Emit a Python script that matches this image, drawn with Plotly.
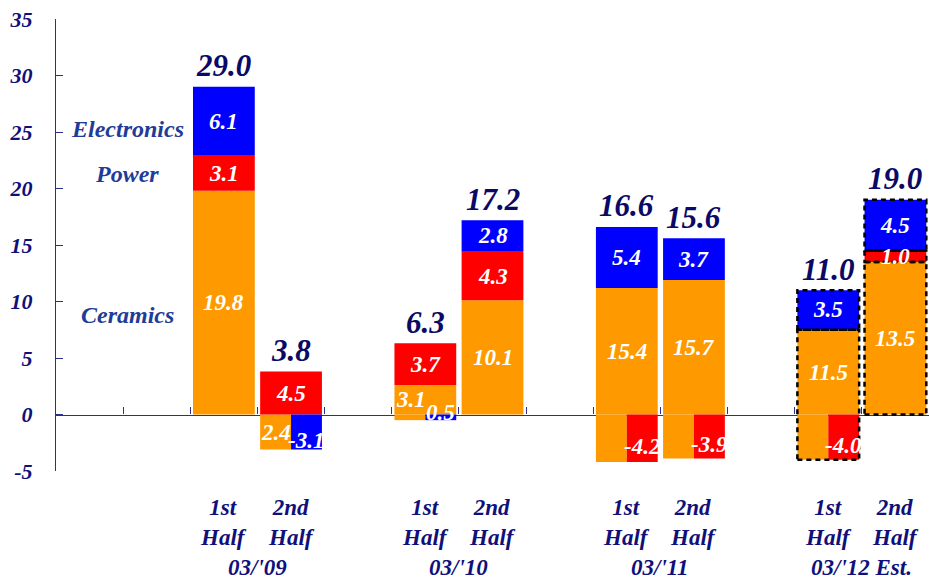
import plotly.graph_objects as go

# Operating income by segment, half-year (billion yen)
periods = ["03/'09", "03/'10", "03/'11", "03/'12 Est."]
halves = ["1st", "2nd"]
ceramics = [19.8, 2.4, 3.1, 10.1, 15.4, 15.7, 11.5, 13.5]
power = [3.1, 4.5, 3.7, 4.3, -4.2, -3.9, -4.0, 1.0]
electronics = [6.1, -3.1, -0.5, 2.8, 5.4, 3.7, 3.5, 4.5]
totals = [29.0, 3.8, 6.3, 17.2, 16.6, 15.6, 11.0, 19.0]
estimate = [False, False, False, False, False, False, True, True]
y_ticks = [-5, 0, 5, 10, 15, 20, 25, 30, 35]

ORANGE, RED, BLUE = "#FF9900", "#FF0000", "#0000FF"
SERIES = [("Ceramics", ceramics, ORANGE), ("Power", power, RED), ("Electronics", electronics, BLUE)]
NAVY = "#10107A"
TOTAL_NAVY = "#0A0A66"
SERIES_BLUE = "#1F3C98"
AXIS = "#2E2E8F"
FONT = "Liberation Serif, Times New Roman, serif"

BAR_W = 0.92
HALF_W = BAR_W / 2


def bi(size, color):
    return dict(family=FONT, size=size, color=color, weight="bold", style="italic")


# label tweaks (pixels) and text overrides for a few crowded segments
NUDGE = {(2, "Ceramics"): (-14, 0), (2, "Electronics"): (0, 13)}
TEXT_OVERRIDE = {(2, "Electronics"): "0.5"}

rects = {name: dict(x=[], base=[], y=[], offset=[], width=[]) for name, _, _ in SERIES}
seg_labels = []
outlines = []


def add_rect(name, xc, lo, hi, part):
    r = rects[name]
    r["x"].append(xc)
    r["base"].append(lo)
    r["y"].append(hi - lo)
    if part == "full":
        r["offset"].append(-HALF_W)
        r["width"].append(BAR_W)
    elif part == "left":
        r["offset"].append(-HALF_W)
        r["width"].append(HALF_W)
    else:
        r["offset"].append(0)
        r["width"].append(HALF_W)


for i in range(len(totals)):
    xc = 3 * (i // 2) + 2 + (i % 2)
    vals = [(name, s[i]) for name, s, _ in SERIES]
    neg = -sum(v for _, v in vals if v < 0)

    # positive part of the bar reaches the total; the offsetting loss
    # is taken out of the bottom of the stack and shown below zero
    drawn = {}
    remaining = totals[i]
    for name, v in reversed(vals):
        if v <= 0:
            continue
        h = min(v, remaining)
        drawn[name] = (remaining - h, remaining)
        remaining -= h
    for name, (lo, hi) in drawn.items():
        if hi > lo:
            add_rect(name, xc, lo, hi, "full")
    if neg > 0:
        add_rect("Ceramics", xc, -neg, 0, "left")
        for name, v in vals:
            if v < 0:
                add_rect(name, xc, v, 0, "right")

    for name, v in vals:
        text = TEXT_OVERRIDE.get((i, name), f"{v:.1f}")
        dx, dy = NUDGE.get((i, name), (0, 0))
        if v > 0:
            lo, hi = drawn[name]
            if hi > lo:
                lx, ly = xc, (lo + hi) / 2
            else:
                lx, ly = xc - HALF_W / 2, -neg / 2
        else:
            lx, ly = xc + HALF_W / 2, v / 2
            dy -= 8
        seg_labels.append((lx, ly, text, dx, dy))

    if estimate[i]:
        segs = sorted((lo, hi) for lo, hi in drawn.values() if hi > lo)
        for lo, hi in segs:
            outlines.append((xc, -neg if lo == 0 else lo, hi))

fig = go.Figure()
for name, _, color in SERIES:
    r = rects[name]
    fig.add_trace(go.Bar(
        x=r["x"], y=r["y"], base=r["base"], offset=r["offset"], width=r["width"],
        marker=dict(color=color, line=dict(width=0)), name=name,
        hoverinfo="skip", showlegend=False,
    ))

shapes = []
for xc, lo, hi in outlines:
    shapes.append(dict(
        type="rect", xref="x", yref="y", x0=xc - HALF_W, x1=xc + HALF_W, y0=lo, y1=hi,
        line=dict(color="black", width=2.5, dash="5px,4px"), fillcolor="rgba(0,0,0,0)",
        layer="above",
    ))

annotations = []
for lx, ly, text, dx, dy in seg_labels:
    annotations.append(dict(
        x=lx, y=ly, xref="x", yref="y", text=text, showarrow=False,
        xshift=dx, yshift=dy, font=bi(23, "white"),
    ))

for i, tot in enumerate(totals):
    xc = 3 * (i // 2) + 2 + (i % 2)
    annotations.append(dict(
        x=xc, y=tot, xref="x", yref="y", text=f"{tot:.1f}", showarrow=False,
        yanchor="middle", yshift=21, font=bi(31, TOTAL_NAVY),
    ))
    annotations.append(dict(
        x=xc, y=0, xref="x", yref="paper", text=f"{halves[i % 2]}<br>Half", showarrow=False,
        yanchor="middle", yshift=-51, font=bi(23, NAVY),
    ))

for p, period in enumerate(periods):
    annotations.append(dict(
        x=3 * p + 2.5, y=0, xref="x", yref="paper", text=period, showarrow=False,
        yanchor="middle", yshift=-96, font=bi(23, NAVY),
    ))

# series names beside the first bar
for name, ly in [("Electronics", 25.3), ("Power", 21.3), ("Ceramics", 8.8)]:
    annotations.append(dict(
        x=0.56, y=ly, xref="x", yref="y", text=name, showarrow=False,
        font=bi(24, SERIES_BLUE),
    ))

fig.update_layout(
    width=929, height=581,
    margin=dict(l=56, r=0, t=19, b=110),
    paper_bgcolor="white", plot_bgcolor="white",
    barmode="overlay", showlegend=False,
    font=dict(family=FONT),
    xaxis=dict(
        range=[-0.5, 12.5], tickvals=[k + 0.5 for k in range(-1, 13)],
        showticklabels=False, ticks="inside", ticklen=7, tickcolor=AXIS, tickwidth=1,
        showline=True, linecolor=AXIS, linewidth=1.2, showgrid=False, zeroline=False,
        anchor="free", position=0.125, layer="below traces",
    ),
    yaxis=dict(
        range=[-5, 35], tickvals=y_ticks, ticktext=[str(v) for v in y_ticks],
        ticks="inside", ticklen=7, tickcolor=AXIS, tickwidth=1,
        showline=True, linecolor=AXIS, linewidth=1.2, showgrid=False, zeroline=False,
        tickfont=bi(22, NAVY), ticklabelstandoff=18,
    ),
    shapes=shapes, annotations=annotations,
)

fig.write_html("out.html")
